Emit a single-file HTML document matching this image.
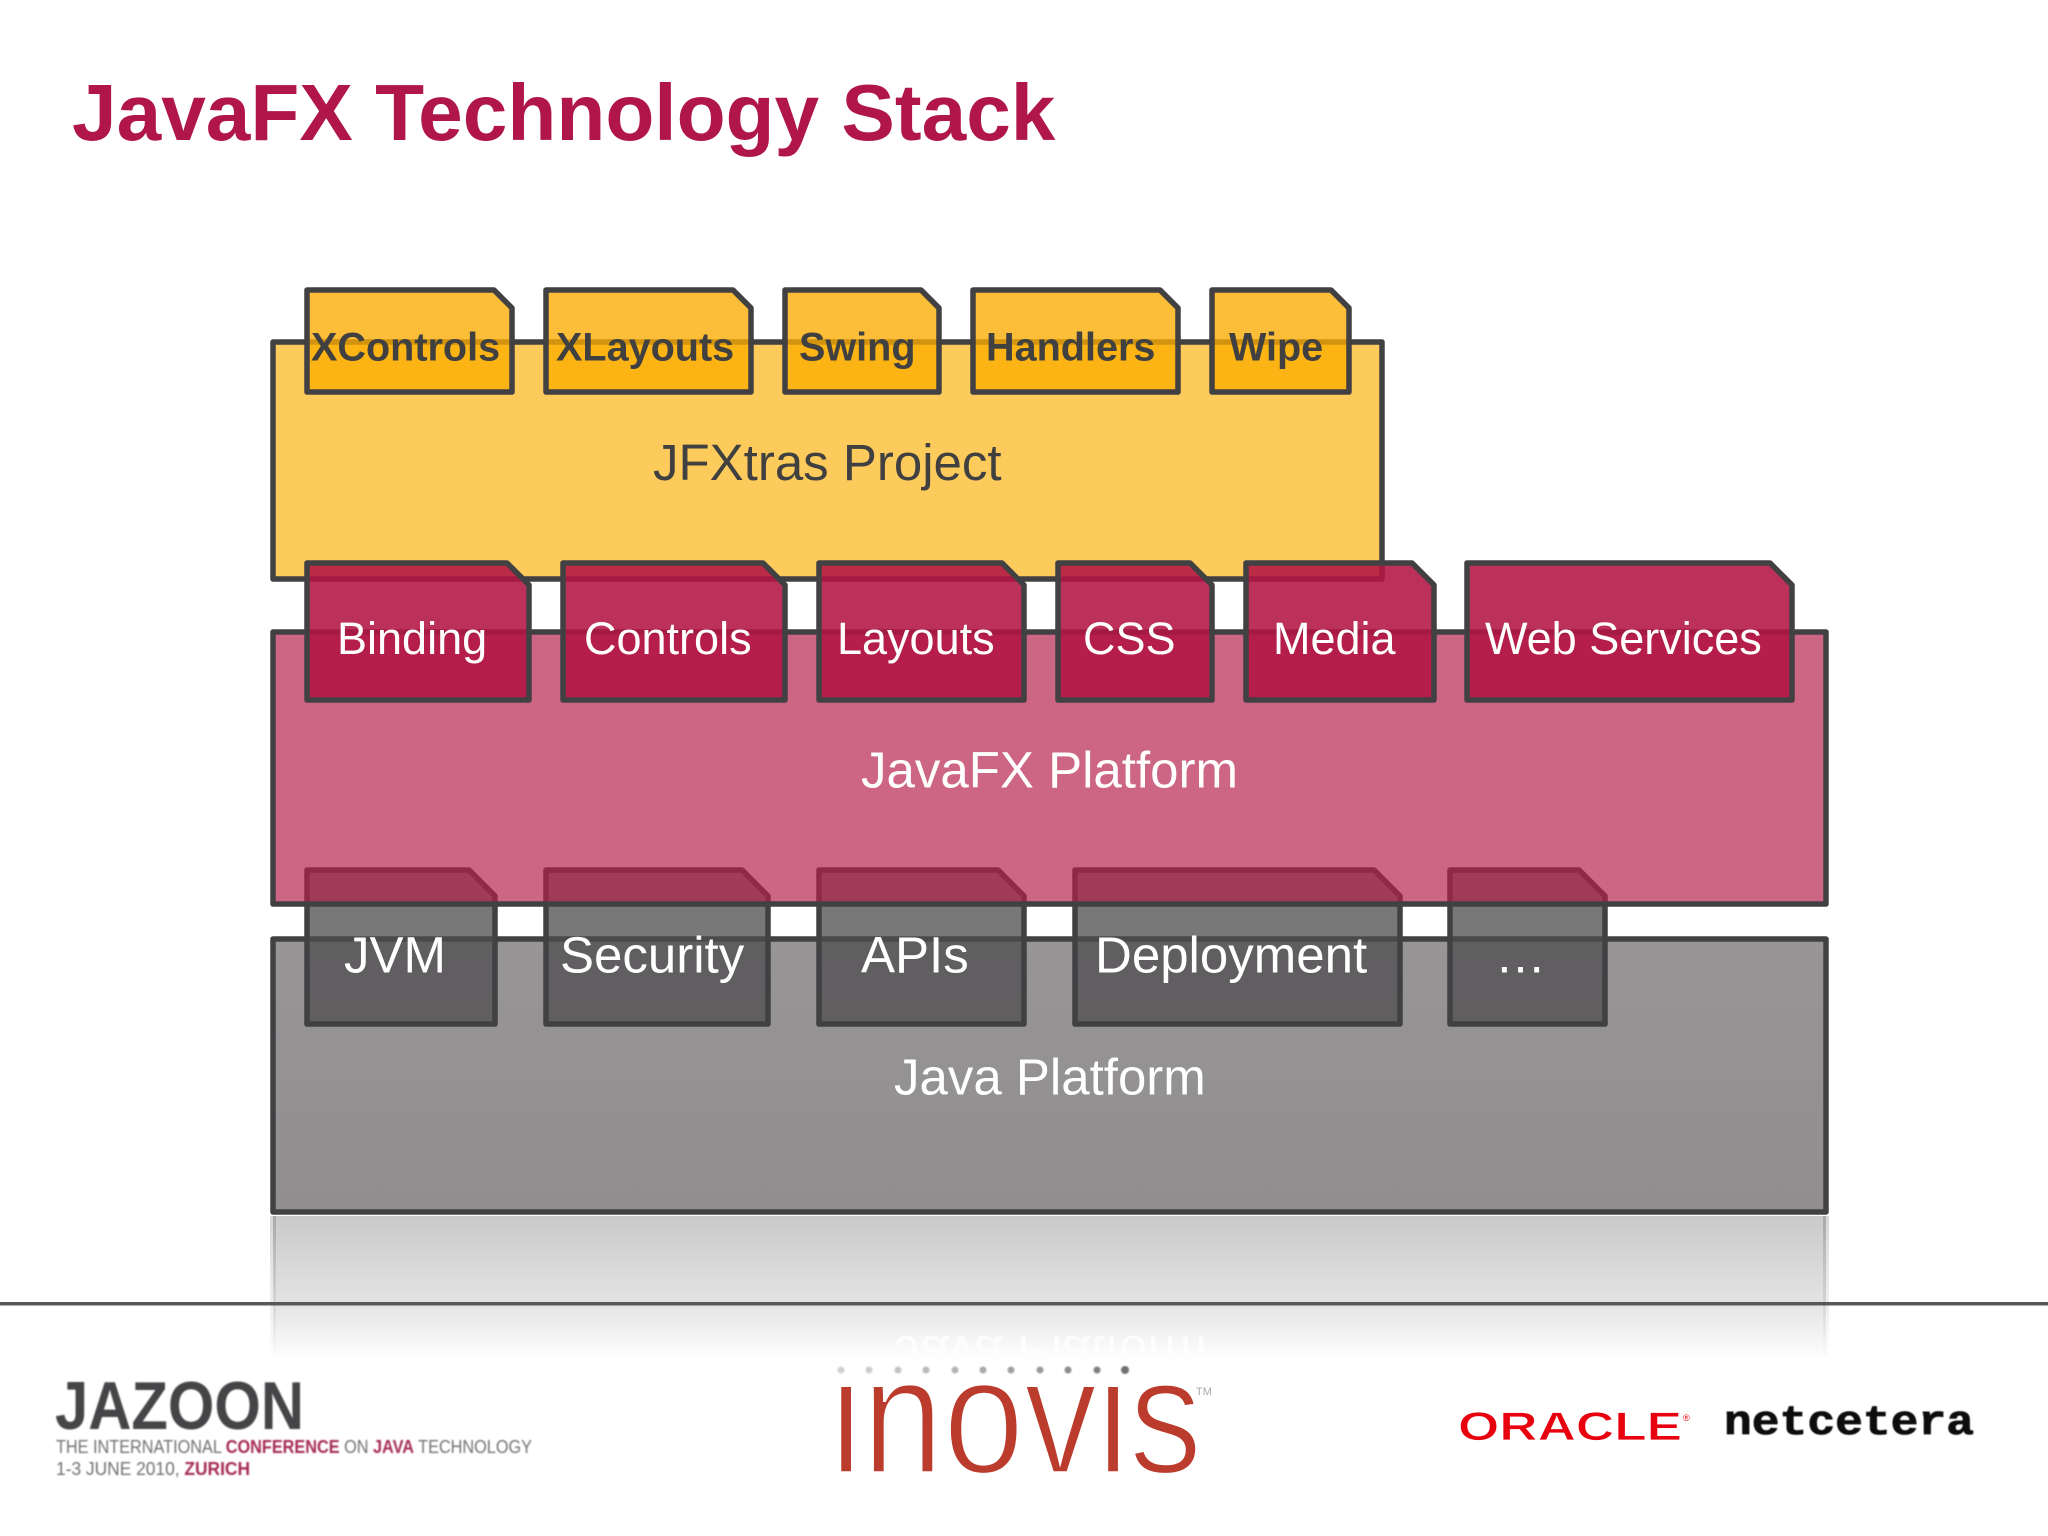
<!DOCTYPE html>
<html><head><meta charset="utf-8"><title>JavaFX Technology Stack</title>
<style>html,body{margin:0;padding:0;background:#fff}svg{display:block}text{font-family:"Liberation Sans",sans-serif}</style>
</head><body>
<svg xmlns="http://www.w3.org/2000/svg" width="2048" height="1536" viewBox="0 0 2048 1536">
<defs>
<linearGradient id="gr" x1="0" y1="0" x2="0" y2="1"><stop offset="0" stop-color="#979596"/><stop offset="1" stop-color="#908e8f"/></linearGradient>
<linearGradient id="refl" x1="0" y1="0" x2="0" y2="1"><stop offset="0" stop-color="#000" stop-opacity=".21"/><stop offset=".6" stop-color="#000" stop-opacity=".11"/><stop offset="1" stop-color="#000" stop-opacity="0"/></linearGradient>
<linearGradient id="reflEdge" x1="0" y1="0" x2="0" y2="1"><stop offset="0" stop-color="#000" stop-opacity=".16"/><stop offset="1" stop-color="#000" stop-opacity="0"/></linearGradient>
<clipPath id="ino"><rect x="820" y="1385" width="400" height="100"/></clipPath>
<clipPath id="rc"><rect x="273" y="1320" width="1553" height="50"/></clipPath>
<filter id="b1"><feGaussianBlur stdDeviation="0.7"/></filter>
<filter id="b2"><feGaussianBlur stdDeviation="0.5"/></filter>
</defs>
<rect width="2048" height="1536" fill="#fff"/>
<text x="72" y="140" font-size="80.2" font-weight="700" fill="#b0164a">JavaFX Technology Stack</text>

<!-- reflection -->
<rect x="273" y="1216" width="1553" height="144" fill="url(#refl)"/>
<rect x="270" y="1216" width="6" height="144" fill="url(#reflEdge)"/>
<rect x="1823" y="1216" width="6" height="144" fill="url(#reflEdge)"/>
<g clip-path="url(#rc)"><text transform="translate(895,2432) scale(1,-1)" x="0" y="1096" font-size="51" fill="#fff" opacity=".8">Java Platform</text></g>

<g stroke="#414042" stroke-width="5.5" stroke-linejoin="round">
<!-- gray layer -->
<rect x="273" y="939" width="1553" height="273" fill="url(#gr)"/>
<g fill="#4f4e4f" fill-opacity=".76">
<path d="M307 870H469L495 896V1024H307Z"/>
<path d="M546 870H742L768 896V1024H546Z"/>
<path d="M819 870H998L1024 896V1024H819Z"/>
<path d="M1075 870H1374L1400 896V1024H1075Z"/>
<path d="M1450 870H1579L1605 896V1024H1450Z"/>
</g>
<!-- pink layer -->
<rect x="273" y="632" width="1553" height="272" fill="#b61e4b" fill-opacity=".68"/>
<!-- yellow layer -->
<rect x="273" y="342" width="1109" height="237" fill="#fdcb5b"/>
<g fill="#fbac00" fill-opacity=".78">
<path d="M307 290H494L512 308V392H307Z"/>
<path d="M546 290H733L751 308V392H546Z"/>
<path d="M785 290H921L939 308V392H785Z"/>
<path d="M973 290H1160L1178 308V392H973Z"/>
<path d="M1212 290H1331L1349 308V392H1212Z"/>
</g>
<!-- pink tabs -->
<g fill="#b21543" fill-opacity=".88">
<path d="M307 563H507L529 585V700H307Z"/>
<path d="M563 563H763L785 585V700H563Z"/>
<path d="M819 563H1002L1024 585V700H819Z"/>
<path d="M1058 563H1190L1212 585V700H1058Z"/>
<path d="M1246 563H1412L1434 585V700H1246Z"/>
<path d="M1467 563H1770L1792 585V700H1467Z"/>
</g>
</g>

<g font-size="39.6" font-weight="700" fill="#404040">
<text x="311" y="360.5">XControls</text>
<text x="556" y="360.5">XLayouts</text>
<text x="799" y="360.5">Swing</text>
<text x="986" y="360.5">Handlers</text>
<text x="1229" y="360.5">Wipe</text>
</g>
<text x="653" y="480" font-size="51" fill="#404040">JFXtras Project</text>
<g font-size="45" fill="#fff">
<text x="337" y="654">Binding</text>
<text x="584" y="654">Controls</text>
<text x="837" y="654">Layouts</text>
<text x="1083" y="654">CSS</text>
<text x="1273" y="654">Media</text>
<text x="1485" y="654">Web Services</text>
</g>
<g font-size="51" fill="#fff">
<text x="861" y="787.5">JavaFX Platform</text>
<text x="344" y="972.5">JVM</text>
<text x="560" y="972.5">Security</text>
<text x="861" y="972.5">APIs</text>
<text x="1095" y="972.5">Deployment</text>
<text x="1495" y="972.5">…</text>
<text x="894" y="1094.5">Java Platform</text>
</g>

<rect x="0" y="1302" width="2048" height="3.5" fill="#58585a"/>

<!-- Jazoon logo -->
<g filter="url(#b1)">
<text x="55" y="1429" font-size="68" font-weight="700" fill="#444446" textLength="249" lengthAdjust="spacingAndGlyphs">JAZOON</text>
<text x="56" y="1453" font-size="18" fill="#707072" textLength="476" lengthAdjust="spacingAndGlyphs">THE INTERNATIONAL <tspan font-weight="700" fill="#a52a55">CONFERENCE</tspan> ON <tspan font-weight="700" fill="#a52a55">JAVA</tspan> TECHNOLOGY</text>
<text x="56" y="1475" font-size="18" fill="#707072" textLength="194" lengthAdjust="spacingAndGlyphs">1-3 JUNE 2010, <tspan font-weight="700" fill="#a52a55">ZURICH</tspan></text>
</g>

<!-- inovis logo -->
<g filter="url(#b1)">
<circle cx="841" cy="1370" r="3.5" fill="#d0d0d0"/><circle cx="869" cy="1370" r="3.5" fill="#ccc"/><circle cx="898" cy="1370" r="3.5" fill="#c4c4c4"/><circle cx="926" cy="1370" r="3.5" fill="#bbb"/><circle cx="955" cy="1370" r="3.5" fill="#b4b4b4"/><circle cx="983" cy="1370" r="3.5" fill="#aaa"/><circle cx="1011" cy="1370" r="3.5" fill="#a0a0a0"/><circle cx="1040" cy="1370" r="3.5" fill="#999"/><circle cx="1068" cy="1370" r="3.5" fill="#8c8c8c"/><circle cx="1097" cy="1370" r="3.5" fill="#808080"/><circle cx="1125" cy="1370" r="4" fill="#707070"/>
</g>
<g clip-path="url(#ino)"><text x="830" y="1473" font-size="166" fill="#bb3b2c" stroke="#fff" stroke-width="3.5" textLength="372" lengthAdjust="spacingAndGlyphs">inovis</text></g>
<text x="1196" y="1395" font-size="11" fill="#aaa">TM</text>

<!-- Oracle / netcetera -->
<text x="1458" y="1440" font-size="40" font-weight="700" fill="#e8000e" stroke="#fff" stroke-width=".8" textLength="224" lengthAdjust="spacingAndGlyphs">ORACLE</text>
<text x="1683" y="1421" font-size="9" fill="#e8000e">®</text>
<g filter="url(#b2)"><text x="1724" y="1434" font-size="42" font-weight="700" fill="#111" stroke="#111" stroke-width=".8" textLength="250" lengthAdjust="spacingAndGlyphs" style="font-family:'Liberation Mono',monospace">netcetera</text></g>
</svg>
</body></html>
